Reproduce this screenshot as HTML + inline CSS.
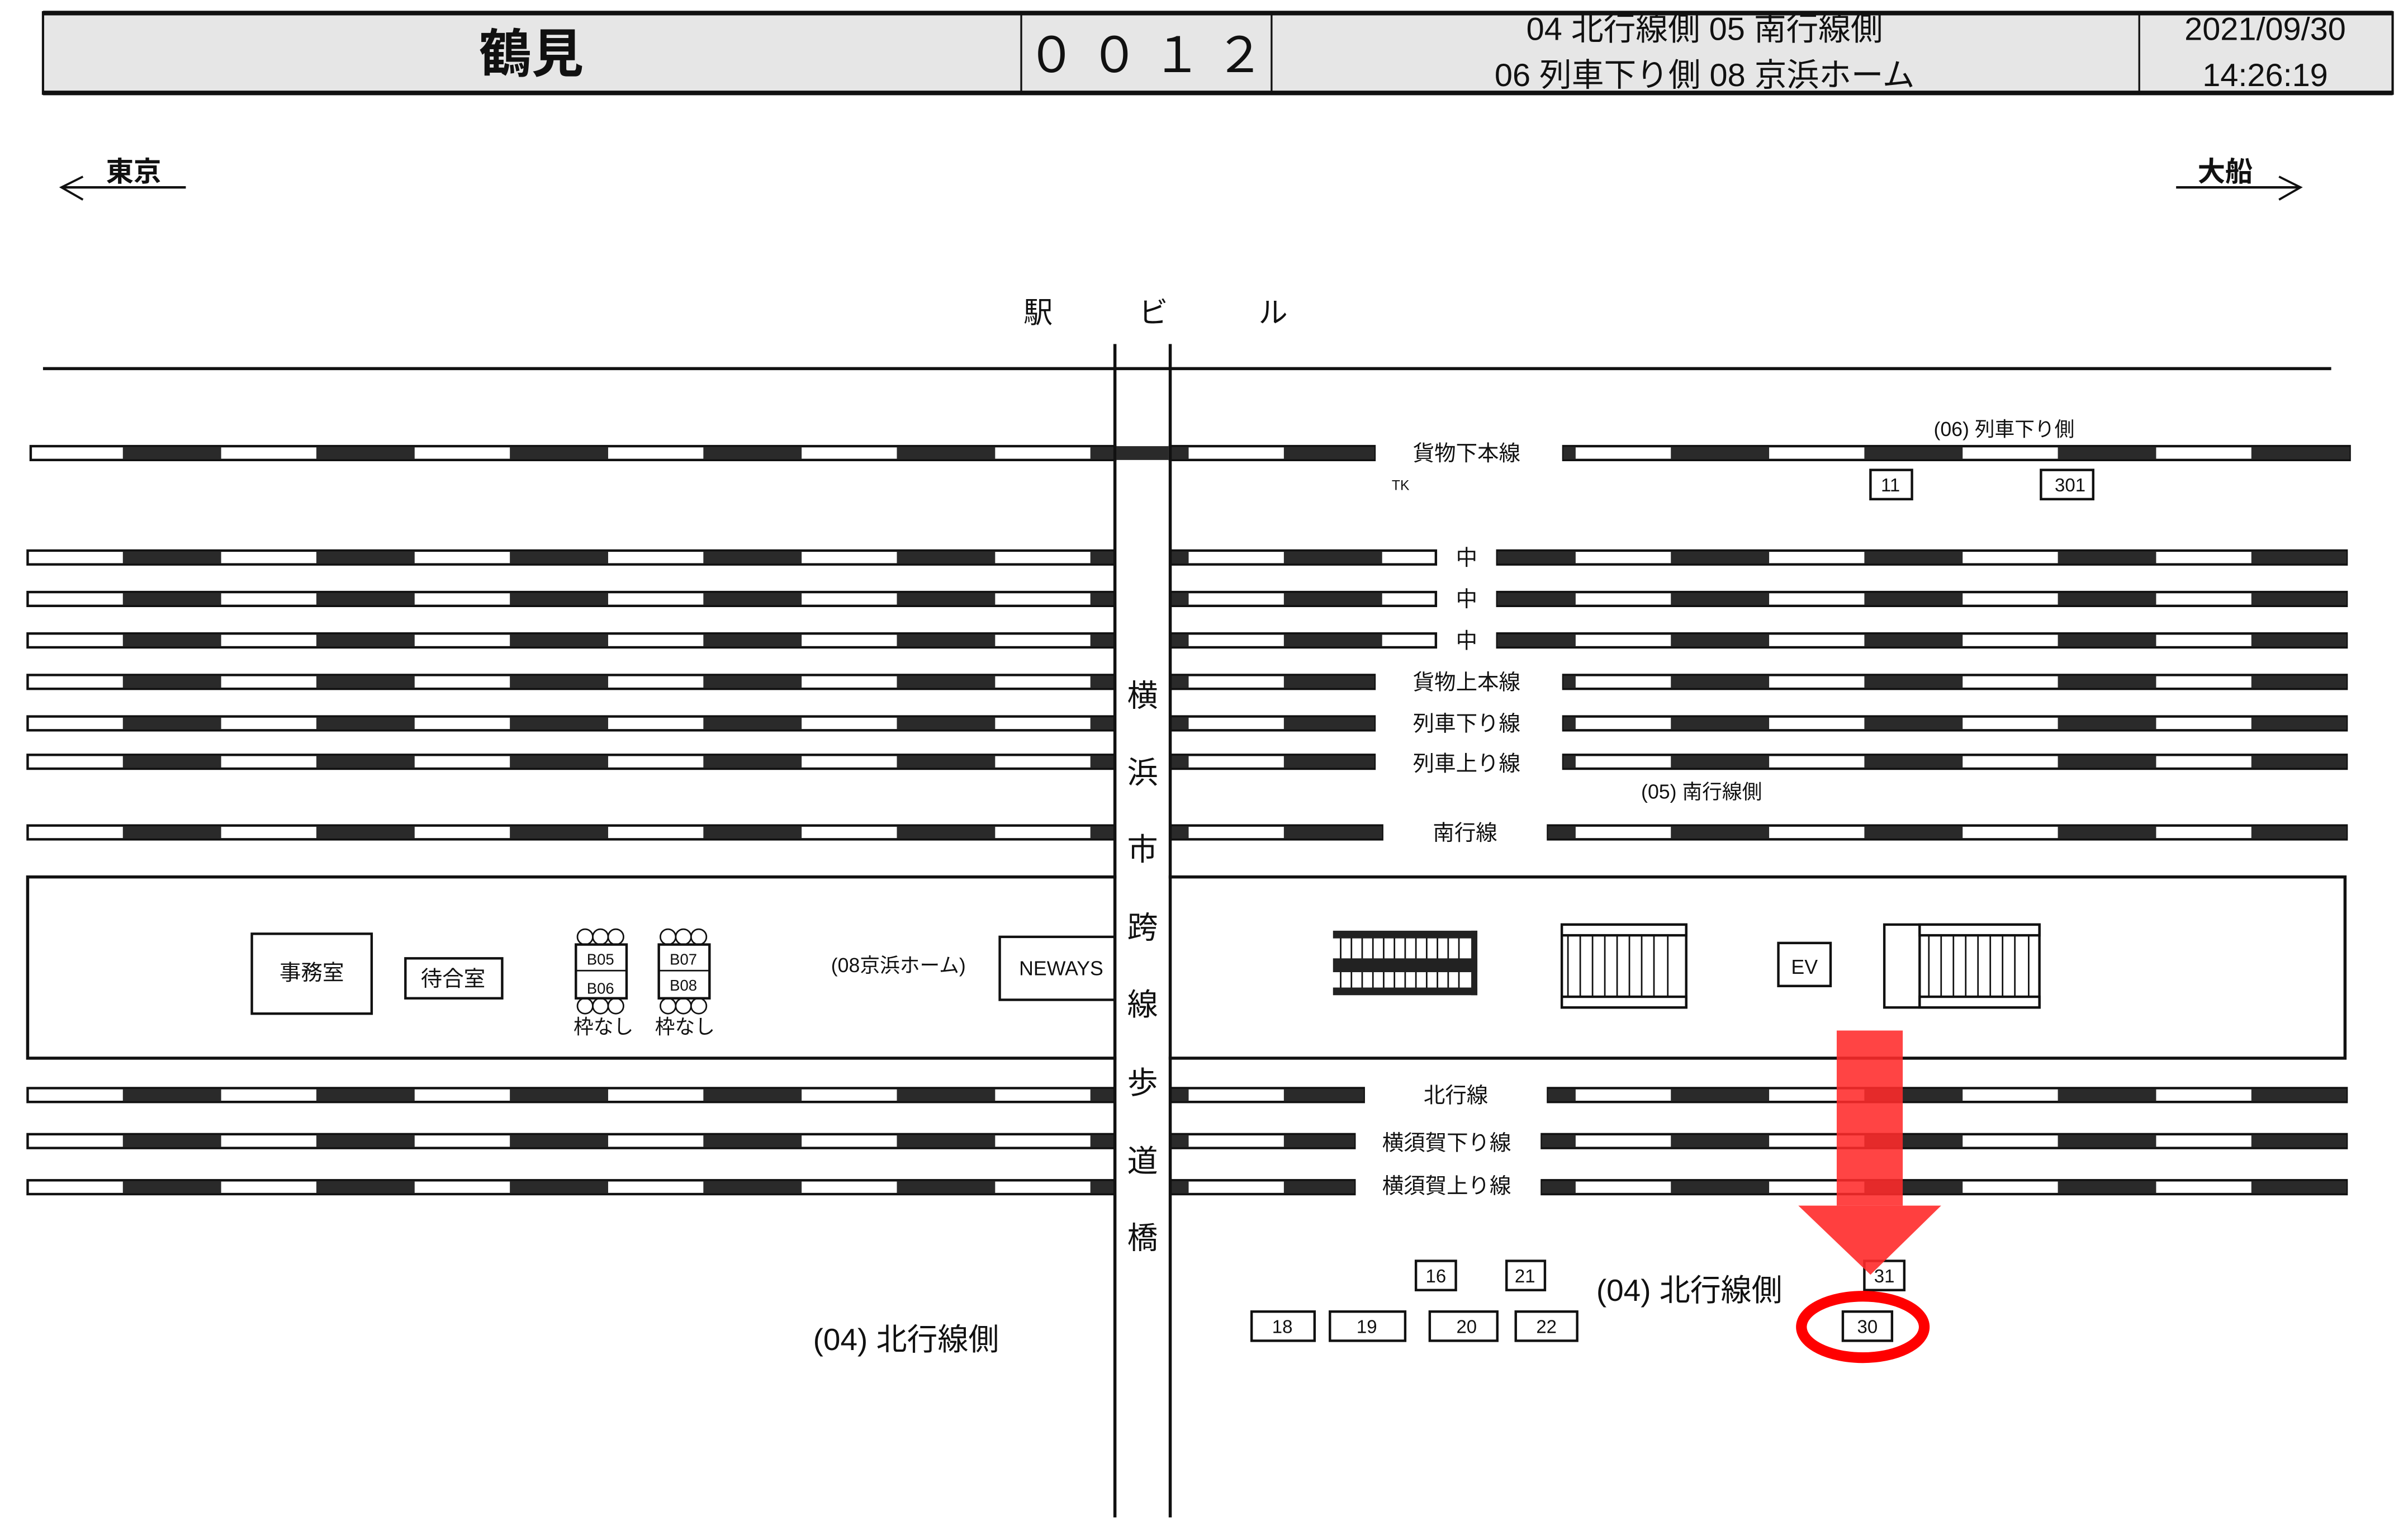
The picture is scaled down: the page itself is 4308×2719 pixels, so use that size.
<!DOCTYPE html>
<html><head><meta charset="utf-8"><style>
html,body{margin:0;padding:0;background:#fff}
svg{display:block}
text{font-family:"Liberation Sans Narrow","Liberation Sans","Noto Sans CJK JP",sans-serif;fill:#111}
.t{fill:#fff;stroke:#111;stroke-width:1.6}
.d{stroke:#2a2a2a;stroke-width:8;stroke-dasharray:64 62}
.b{fill:#fff;stroke:#111;stroke-width:1.6}
.l{font-size:14px;text-anchor:middle}
</style></head><body>
<svg width="4308" height="2719" viewBox="0 0 1568 989.7" preserveAspectRatio="none" xmlns="http://www.w3.org/2000/svg">
<!-- header -->
<rect x="28" y="8" width="1530" height="53" fill="#e6e6e6" stroke="#111" stroke-width="1.5"/>
<line x1="28" y1="8.5" x2="1558" y2="8.5" stroke="#111" stroke-width="3"/>
<line x1="28" y1="60.5" x2="1558" y2="60.5" stroke="#111" stroke-width="3"/>
<line x1="665" y1="8" x2="665" y2="61" stroke="#111" stroke-width="1.2"/>
<line x1="828" y1="8" x2="828" y2="61" stroke="#111" stroke-width="1.2"/>
<line x1="1393" y1="8" x2="1393" y2="61" stroke="#111" stroke-width="1.2"/>
<text x="346" y="47" font-size="34" text-anchor="middle" font-weight="bold">鶴見</text>
<text x="746" y="47" font-size="32" text-anchor="middle">０ ０ １ ２</text>
<text x="1110" y="26" font-size="21" text-anchor="middle">04 北行線側 05 南行線側</text>
<text x="1110" y="56" font-size="21" text-anchor="middle">06 列車下り側 08 京浜ホーム</text>
<text x="1475" y="26" font-size="21" text-anchor="middle">2021/09/30</text>
<text x="1475" y="56" font-size="21" text-anchor="middle">14:26:19</text>
<!-- direction arrows -->
<text x="87" y="118" font-size="18" text-anchor="middle" font-weight="bold">東京</text>
<line x1="40" y1="122" x2="121" y2="122" stroke="#111" stroke-width="1.6"/>
<polyline points="54,115 40,122 54,130" fill="none" stroke="#111" stroke-width="1.4"/>
<text x="1449" y="118" font-size="18" text-anchor="middle" font-weight="bold">大船</text>
<line x1="1417" y1="122" x2="1498" y2="122" stroke="#111" stroke-width="1.6"/>
<polyline points="1484,115 1498,122 1484,130" fill="none" stroke="#111" stroke-width="1.4"/>
<text x="676" y="210" font-size="19" text-anchor="middle">駅</text>
<text x="751" y="210" font-size="19" text-anchor="middle">ビ</text>
<text x="829" y="210" font-size="19" text-anchor="middle">ル</text>
<line x1="28" y1="240" x2="1518" y2="240" stroke="#111" stroke-width="2"/>

<!-- tracks -->
<g>
<rect class="t" x="20" y="290.5" width="875" height="9"/><line class="d" x1="20" x2="895" y1="295" y2="295" stroke-dashoffset="-60"/>
<rect class="t" x="1018" y="290.5" width="512" height="9"/><line class="d" x1="1018" x2="1530" y1="295" y2="295" stroke-dashoffset="938"/>

<rect class="t" x="18" y="358.5" width="708" height="9"/><line class="d" x1="18" x2="726" y1="363" y2="363" stroke-dashoffset="-62"/>
<rect class="t" x="762" y="358.5" width="173" height="9"/><line class="d" x1="762" x2="935" y1="363" y2="363" stroke-dashoffset="682"/>
<rect class="t" x="975" y="358.5" width="553" height="9"/><line class="d" x1="975" x2="1528" y1="363" y2="363" stroke-dashoffset="895"/>

<rect class="t" x="18" y="385.5" width="708" height="9"/><line class="d" x1="18" x2="726" y1="390" y2="390" stroke-dashoffset="-62"/>
<rect class="t" x="762" y="385.5" width="173" height="9"/><line class="d" x1="762" x2="935" y1="390" y2="390" stroke-dashoffset="682"/>
<rect class="t" x="975" y="385.5" width="553" height="9"/><line class="d" x1="975" x2="1528" y1="390" y2="390" stroke-dashoffset="895"/>

<rect class="t" x="18" y="412.5" width="708" height="9"/><line class="d" x1="18" x2="726" y1="417" y2="417" stroke-dashoffset="-62"/>
<rect class="t" x="762" y="412.5" width="173" height="9"/><line class="d" x1="762" x2="935" y1="417" y2="417" stroke-dashoffset="682"/>
<rect class="t" x="975" y="412.5" width="553" height="9"/><line class="d" x1="975" x2="1528" y1="417" y2="417" stroke-dashoffset="895"/>

<rect class="t" x="18" y="439.5" width="708" height="9"/><line class="d" x1="18" x2="726" y1="444" y2="444" stroke-dashoffset="-62"/>
<rect class="t" x="762" y="439.5" width="133" height="9"/><line class="d" x1="762" x2="895" y1="444" y2="444" stroke-dashoffset="682"/>
<rect class="t" x="1018" y="439.5" width="510" height="9"/><line class="d" x1="1018" x2="1528" y1="444" y2="444" stroke-dashoffset="938"/>

<rect class="t" x="18" y="466.5" width="708" height="9"/><line class="d" x1="18" x2="726" y1="471" y2="471" stroke-dashoffset="-62"/>
<rect class="t" x="762" y="466.5" width="133" height="9"/><line class="d" x1="762" x2="895" y1="471" y2="471" stroke-dashoffset="682"/>
<rect class="t" x="1018" y="466.5" width="510" height="9"/><line class="d" x1="1018" x2="1528" y1="471" y2="471" stroke-dashoffset="938"/>

<rect class="t" x="18" y="491.5" width="708" height="9"/><line class="d" x1="18" x2="726" y1="496" y2="496" stroke-dashoffset="-62"/>
<rect class="t" x="762" y="491.5" width="133" height="9"/><line class="d" x1="762" x2="895" y1="496" y2="496" stroke-dashoffset="682"/>
<rect class="t" x="1018" y="491.5" width="510" height="9"/><line class="d" x1="1018" x2="1528" y1="496" y2="496" stroke-dashoffset="938"/>

<rect class="t" x="18" y="537.5" width="708" height="9"/><line class="d" x1="18" x2="726" y1="542" y2="542" stroke-dashoffset="-62"/>
<rect class="t" x="762" y="537.5" width="138" height="9"/><line class="d" x1="762" x2="900" y1="542" y2="542" stroke-dashoffset="682"/>
<rect class="t" x="1008" y="537.5" width="520" height="9"/><line class="d" x1="1008" x2="1528" y1="542" y2="542" stroke-dashoffset="928"/>

<rect class="t" x="18" y="708.5" width="708" height="9"/><line class="d" x1="18" x2="726" y1="713" y2="713" stroke-dashoffset="-62"/>
<rect class="t" x="762" y="708.5" width="126" height="9"/><line class="d" x1="762" x2="888" y1="713" y2="713" stroke-dashoffset="682"/>
<rect class="t" x="1008" y="708.5" width="520" height="9"/><line class="d" x1="1008" x2="1528" y1="713" y2="713" stroke-dashoffset="928"/>

<rect class="t" x="18" y="738.5" width="708" height="9"/><line class="d" x1="18" x2="726" y1="743" y2="743" stroke-dashoffset="-62"/>
<rect class="t" x="762" y="738.5" width="120" height="9"/><line class="d" x1="762" x2="882" y1="743" y2="743" stroke-dashoffset="682"/>
<rect class="t" x="1004" y="738.5" width="524" height="9"/><line class="d" x1="1004" x2="1528" y1="743" y2="743" stroke-dashoffset="924"/>

<rect class="t" x="18" y="768.5" width="708" height="9"/><line class="d" x1="18" x2="726" y1="773" y2="773" stroke-dashoffset="-62"/>
<rect class="t" x="762" y="768.5" width="120" height="9"/><line class="d" x1="762" x2="882" y1="773" y2="773" stroke-dashoffset="682"/>
<rect class="t" x="1004" y="768.5" width="524" height="9"/><line class="d" x1="1004" x2="1528" y1="773" y2="773" stroke-dashoffset="924"/>
</g>

<!-- track labels -->
<text class="l" x="955" y="300">貨物下本線</text>
<text x="912" y="319" font-size="9" text-anchor="middle">TK</text>
<text class="l" x="955" y="368">中</text>
<text class="l" x="955" y="395">中</text>
<text class="l" x="955" y="422">中</text>
<text class="l" x="955" y="449">貨物上本線</text>
<text class="l" x="955" y="476">列車下り線</text>
<text class="l" x="955" y="502">列車上り線</text>
<text class="l" x="954" y="547">南行線</text>
<text class="l" x="948" y="718">北行線</text>
<text class="l" x="942" y="749">横須賀下り線</text>
<text class="l" x="942" y="777">横須賀上り線</text>
<text x="1305" y="284" font-size="13" text-anchor="middle">(06) 列車下り側</text>
<text x="1108" y="520" font-size="13" text-anchor="middle">(05) 南行線側</text>

<!-- platform -->
<rect x="18" y="571" width="1509" height="118" fill="none" stroke="#111" stroke-width="2"/>
<rect class="b" x="164" y="608" width="78" height="52"/>
<text class="l" x="203" y="638">事務室</text>
<rect class="b" x="264" y="624" width="63" height="26"/>
<text class="l" x="295" y="642">待合室</text>
<g fill="#fff" stroke="#111" stroke-width="1">
<circle cx="381" cy="610" r="5"/><circle cx="391" cy="610" r="5"/><circle cx="401" cy="610" r="5"/>
<circle cx="381" cy="655" r="5"/><circle cx="391" cy="655" r="5"/><circle cx="401" cy="655" r="5"/>
<circle cx="435" cy="610" r="5"/><circle cx="445" cy="610" r="5"/><circle cx="455" cy="610" r="5"/>
<circle cx="435" cy="655" r="5"/><circle cx="445" cy="655" r="5"/><circle cx="455" cy="655" r="5"/>
</g>
<rect class="b" x="375" y="615" width="33" height="35"/><line x1="375" y1="632" x2="408" y2="632" stroke="#111"/>
<rect class="b" x="429" y="615" width="33" height="35"/><line x1="429" y1="632" x2="462" y2="632" stroke="#111"/>
<text x="391" y="628" font-size="10" text-anchor="middle">B05</text>
<text x="391" y="647" font-size="10" text-anchor="middle">B06</text>
<text x="445" y="628" font-size="10" text-anchor="middle">B07</text>
<text x="445" y="645" font-size="10" text-anchor="middle">B08</text>
<text x="393" y="673" font-size="13" text-anchor="middle">枠なし</text>
<text x="446" y="673" font-size="13" text-anchor="middle">枠なし</text>
<text x="585" y="633" font-size="13" text-anchor="middle">(08京浜ホーム)</text>
<rect class="b" x="651" y="610" width="75" height="41"/>
<text x="691" y="635" font-size="13" text-anchor="middle">NEWAYS</text>
<!-- stairs -->
<g stroke="#111" stroke-width="1">
<line x1="873" y1="607" x2="873" y2="647"/><line x1="880" y1="607" x2="880" y2="647"/><line x1="887" y1="607" x2="887" y2="647"/><line x1="894" y1="607" x2="894" y2="647"/><line x1="901" y1="607" x2="901" y2="647"/><line x1="908" y1="607" x2="908" y2="647"/><line x1="915" y1="607" x2="915" y2="647"/><line x1="922" y1="607" x2="922" y2="647"/><line x1="929" y1="607" x2="929" y2="647"/><line x1="936" y1="607" x2="936" y2="647"/><line x1="943" y1="607" x2="943" y2="647"/><line x1="950" y1="607" x2="950" y2="647"/>
</g>
<rect x="868" y="606" width="94" height="5" fill="#222"/><rect x="868" y="624" width="94" height="9" fill="#222"/><rect x="868" y="643" width="94" height="5" fill="#222"/>
<rect x="958" y="606" width="4" height="42" fill="#222"/>
<!-- escalator 1 -->
<rect class="b" x="1017" y="602" width="81" height="54"/>
<rect class="b" x="1017" y="602" width="81" height="7"/><rect class="b" x="1017" y="649" width="81" height="7"/>
<g stroke="#111" stroke-width="1">
<line x1="1021" y1="609" x2="1021" y2="649"/><line x1="1029" y1="609" x2="1029" y2="649"/><line x1="1037" y1="609" x2="1037" y2="649"/><line x1="1045" y1="609" x2="1045" y2="649"/><line x1="1053" y1="609" x2="1053" y2="649"/><line x1="1061" y1="609" x2="1061" y2="649"/><line x1="1069" y1="609" x2="1069" y2="649"/><line x1="1077" y1="609" x2="1077" y2="649"/><line x1="1086" y1="609" x2="1086" y2="649"/>
</g>
<rect class="b" x="1158" y="614" width="34" height="28"/>
<text x="1175" y="634" font-size="13" text-anchor="middle">EV</text>
<!-- escalator 2 -->
<rect class="b" x="1227" y="602" width="101" height="54"/>
<line x1="1250" y1="602" x2="1250" y2="656" stroke="#111" stroke-width="1.6"/>
<rect class="b" x="1250" y="602" width="78" height="7"/><rect class="b" x="1250" y="649" width="78" height="7"/>
<g stroke="#111" stroke-width="1">
<line x1="1256" y1="609" x2="1256" y2="649"/><line x1="1264" y1="609" x2="1264" y2="649"/><line x1="1272" y1="609" x2="1272" y2="649"/><line x1="1280" y1="609" x2="1280" y2="649"/><line x1="1288" y1="609" x2="1288" y2="649"/><line x1="1296" y1="609" x2="1296" y2="649"/><line x1="1304" y1="609" x2="1304" y2="649"/><line x1="1312" y1="609" x2="1312" y2="649"/><line x1="1321" y1="609" x2="1321" y2="649"/>
</g>

<!-- bridge -->
<rect x="727" y="250" width="34" height="738" fill="#fff"/>
<line x1="726" y1="224" x2="726" y2="988" stroke="#111" stroke-width="2"/>
<line x1="762" y1="224" x2="762" y2="988" stroke="#111" stroke-width="2"/>
<rect x="727" y="290.5" width="34" height="9" fill="#2a2a2a"/>
<g font-size="20" text-anchor="middle">
<text x="744" y="460">横</text><text x="744" y="510">浜</text><text x="744" y="560">市</text><text x="744" y="611">跨</text><text x="744" y="661">線</text><text x="744" y="712">歩</text><text x="744" y="763">道</text><text x="744" y="813">橋</text>
</g>

<!-- number boxes -->
<g font-size="12" text-anchor="middle">
<rect class="b" x="1218" y="306" width="27" height="19"/><text x="1231" y="320">11</text>
<rect class="b" x="1329" y="306" width="34" height="19"/><text x="1348" y="320">301</text>
<rect class="b" x="922" y="821" width="26" height="19"/><text x="935" y="835">16</text>
<rect class="b" x="981" y="821" width="25" height="19"/><text x="993" y="835">21</text>
<rect class="b" x="1214" y="821" width="26" height="19"/><text x="1227" y="835">31</text>
<rect class="b" x="815" y="854" width="41" height="19"/><text x="835" y="868">18</text>
<rect class="b" x="866" y="854" width="49" height="19"/><text x="890" y="868">19</text>
<rect class="b" x="931" y="854" width="44" height="19"/><text x="955" y="868">20</text>
<rect class="b" x="987" y="854" width="40" height="19"/><text x="1007" y="868">22</text>
<rect class="b" x="1200" y="854" width="32" height="19"/><text x="1216" y="868">30</text>
</g>
<text x="1100" y="847" font-size="20" text-anchor="middle">(04) 北行線側</text>
<text x="590" y="879" font-size="20" text-anchor="middle">(04) 北行線側</text>

<!-- red arrow -->
<rect x="1196" y="671" width="43" height="114" fill="#ff2a2a" opacity="0.88"/>
<polygon points="1171,785 1264,785 1218,830" fill="#ff2a2a" opacity="0.9"/>
<ellipse cx="1213" cy="864" rx="40" ry="20" fill="none" stroke="#f00" stroke-width="7"/>
</svg>
</body></html>
